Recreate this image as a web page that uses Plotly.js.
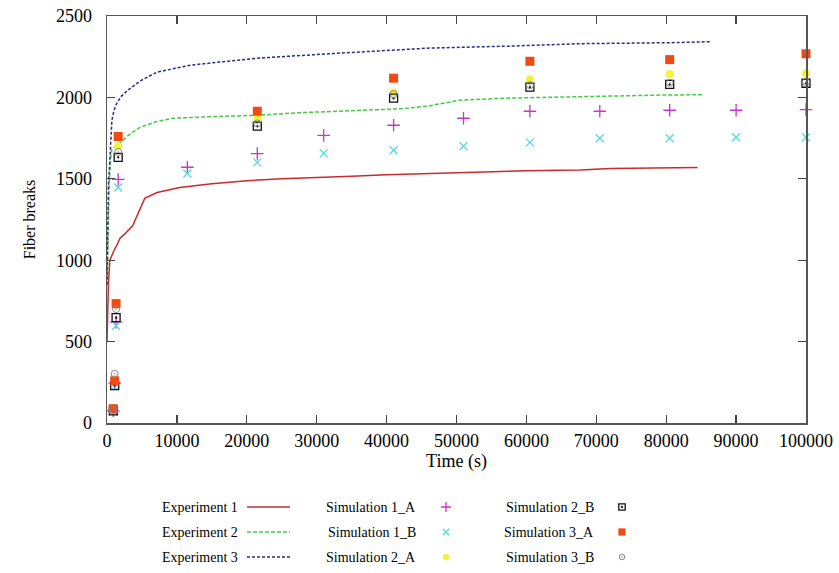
<!DOCTYPE html>
<html>
<head>
<meta charset="utf-8">
<script src="https://cdn.plot.ly/plotly-3.0.1.min.js"></script>
<style>html,body{margin:0;padding:0;background:#fff;}#chart{width:839px;height:573px;}</style>
</head>
<body>
<div id="chart"></div>
<script>
// ---- data ----
const exp1X = [0, 100, 200, 400, 700, 1000, 1500, 1860, 2500, 3700, 4000, 4600, 5400, 7150, 10400, 15000, 20000, 25000, 31900, 35000, 40000, 45000, 50000, 55000, 60000, 64800, 67700, 72000, 78000, 84500];
const exp1Y = [500, 700, 850, 998, 1030, 1060, 1100, 1135, 1160, 1213, 1244, 1300, 1380, 1416, 1447, 1470, 1488, 1500, 1509, 1515, 1525, 1532, 1538, 1544, 1550, 1552, 1554, 1564, 1565, 1570];

const exp2X = [0, 100, 300, 500, 715, 1000, 2000, 3000, 4700, 7000, 9400, 15000, 21500, 27000, 33300, 39000, 42000, 45800, 48000, 50500, 56650, 62000, 67700, 70000, 76250, 80000, 85300];
const exp2Y = [850, 1100, 1450, 1620, 1687, 1695, 1725, 1765, 1816, 1850, 1872, 1882, 1890, 1905, 1915, 1921, 1930, 1946, 1965, 1983, 1995, 2000, 2001, 2007, 2013, 2015, 2016];

const exp3X = [0, 100, 200, 430, 700, 1000, 1400, 2000, 2860, 4700, 7150, 11900, 21500, 33300, 46200, 57650, 67700, 80500, 86300];
const exp3Y = [850, 1200, 1450, 1632, 1860, 1920, 1964, 2005, 2040, 2100, 2155, 2198, 2241, 2272, 2303, 2315, 2330, 2336, 2342];

const sim1X = [900, 1100, 1300, 1600, 11500, 21500, 31000, 41000, 51000, 60500, 70500, 80500, 90000, 100000];
const sim1AY = [75, 245, 620, 1496, 1571, 1655, 1767, 1829, 1872, 1915, 1915, 1921, 1921, 1925];
const sim1BY = [70, 225, 597, 1447, 1533, 1601, 1656, 1675, 1700, 1724, 1749, 1749, 1755, 1755];

const sim23X = [900, 1100, 1300, 1600, 21500, 41000, 60500, 80500, 100000];
const sim2AY = [82, 270, 740, 1700, 1870, 2030, 2112, 2143, 2149];
const sim2BY = [75, 230, 647, 1632, 1823, 1995, 2063, 2080, 2087];
const sim3AY = [88, 259, 733, 1760, 1915, 2118, 2222, 2232, 2268];
const sim3BY = [80, 302, 700, 1665, 1840, 2020, 2075, 2090, 2095];

const xTicks = [0, 10000, 20000, 30000, 40000, 50000, 60000, 70000, 80000, 90000, 100000];
const yTicks = [0, 500, 1000, 1500, 2000, 2500];

const names = ["Experiment 1", "Experiment 2", "Experiment 3",
               "Simulation 1_A", "Simulation 1_B", "Simulation 2_A",
               "Simulation 2_B", "Simulation 3_A", "Simulation 3_B"];

// ---- styles ----
const C = {
  e1: '#cc2a2a', e2: '#44cc44', e3: '#2a2a88',
  s1a: '#cc33cc', s1b: '#55d8e0', s2a: '#f2f23a', s2b: '#111111', s3a: '#ee4a12', s3b: '#888888'
};
const serif = "Liberation Serif";

const lineStyles = [
  {color: C.e1, width: 1.5, dash: 'solid'},
  {color: C.e2, width: 1.5, dash: '4px,2px'},
  {color: C.e3, width: 1.5, dash: '3px,2px'}
];
function markerStyles(scale) {
  return [
    {symbol: 'cross-thin-open', size: 9 * scale, color: C.s1a, line: {color: C.s1a, width: 1.3}},
    {symbol: 'x-thin-open', size: 8 * scale, color: C.s1b, line: {color: C.s1b, width: 1.3}},
    {symbol: 'circle', size: 8 * scale, color: C.s2a, line: {width: 0}},
    {symbol: 'square-open-dot', size: 8 * scale, color: C.s2b, line: {color: C.s2b, width: 1.3}},
    {symbol: 'square', size: 9 * scale, color: C.s3a, line: {width: 0}},
    {symbol: 'circle-open-dot', size: 7 * scale, color: C.s3b, line: {color: C.s3b, width: 1}}
  ];
}
const plotMarkers = markerStyles(1);
const legendMarkers = markerStyles(0.8);

const traces = [];
[[exp1X, exp1Y], [exp2X, exp2Y], [exp3X, exp3Y]].forEach((d, i) => {
  traces.push({x: d[0], y: d[1], type: 'scatter', mode: 'lines', name: names[i],
    line: lineStyles[i], showlegend: false, cliponaxis: false});
});
[[sim1X, sim1AY], [sim1X, sim1BY], [sim23X, sim2AY], [sim23X, sim2BY], [sim23X, sim3AY], [sim23X, sim3BY]].forEach((d, i) => {
  traces.push({x: d[0], y: d[1], type: 'scatter', mode: 'markers', name: names[i + 3],
    marker: plotMarkers[i], showlegend: false, cliponaxis: false});
});

// ---- hand-drawn legend (text on the left, sample on the right, gnuplot style) ----
const rowsY = [507, 532, 557];
const colTextRight = [240, 418, 596];
const colSample = [[247, 290], [446, 446], [622, 622]];
const annotations = [];
names.forEach((n, k) => {
  const col = Math.floor(k / 3), row = k % 3;
  annotations.push({xref: 'x2', yref: 'y2', x: colTextRight[col], y: rowsY[row], text: n,
    showarrow: false, xanchor: 'right', yanchor: 'middle', font: {family: serif, size: 14, color: '#000'}});
  if (col === 0) {
    traces.push({x: colSample[0], y: [rowsY[row], rowsY[row]], xaxis: 'x2', yaxis: 'y2',
      type: 'scatter', mode: 'lines', line: lineStyles[row], showlegend: false, hoverinfo: 'skip'});
  } else {
    const mi = (col - 1) * 3 + row;
    traces.push({x: [colSample[col][0]], y: [rowsY[row]], xaxis: 'x2', yaxis: 'y2',
      type: 'scatter', mode: 'markers', marker: legendMarkers[mi], showlegend: false, hoverinfo: 'skip'});
  }
});

const axisCommon = {
  showline: true, linecolor: '#555', linewidth: 1.5, mirror: 'ticks',
  ticks: 'inside', ticklen: 8, tickwidth: 1.2, tickcolor: '#444',
  showgrid: false, zeroline: false,
  tickfont: {family: serif, size: 18, color: '#000'}
};

const layout = {
  width: 839, height: 573,
  margin: {l: 107, r: 33, t: 16, b: 10},
  paper_bgcolor: '#fff', plot_bgcolor: '#fff',
  showlegend: false,
  font: {family: serif},
  xaxis: Object.assign({}, axisCommon, {
    range: [0, 100000], tickvals: xTicks, ticktext: xTicks.map(String),
    domain: [0, 1], anchor: 'y', ticklabelstandoff: 1,
    title: {text: 'Time (s)', font: {family: serif, size: 18, color: '#000'}, standoff: 4}
  }),
  yaxis: Object.assign({}, axisCommon, {
    range: [0, 2500], tickvals: yTicks, ticktext: yTicks.map(String),
    domain: [0.2559, 1], anchor: 'x', ticklabelstandoff: 10,
    title: {text: 'Fiber breaks', font: {family: serif, size: 16, color: '#000'}, standoff: 16}
  }),
  xaxis2: {domain: [0, 1], range: [107, 806], anchor: 'y2', visible: false, fixedrange: true},
  yaxis2: {domain: [0, 0.2], range: [563, 453.6], anchor: 'x2', visible: false, fixedrange: true},
  annotations: annotations
};

Plotly.newPlot('chart', traces, layout, {staticPlot: true, displayModeBar: false});
</script>
</body>
</html>
